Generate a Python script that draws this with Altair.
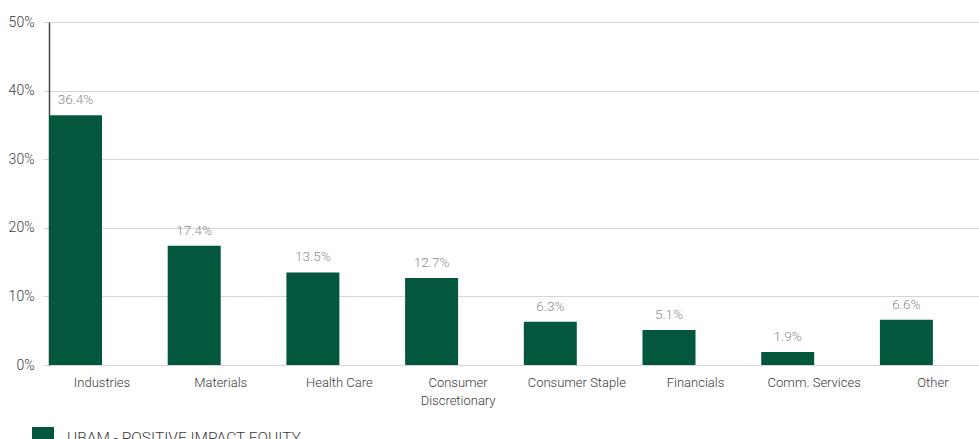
import altair as alt
import pandas as pd

categories = ["Industries", "Materials", "Health Care", "Consumer Discretionary",
              "Consumer Staple", "Financials", "Comm. Services", "Other"]
values = [36.4, 17.4, 13.5, 12.7, 6.3, 5.1, 1.9, 6.6]
series_name = "UBAM - POSITIVE IMPACT EQUITY"
y_ticks = [0, 10, 20, 30, 40, 50]

df = pd.DataFrame({"category": categories, "value": values, "series": series_name})

GREEN = "#03573f"
FONT = "Roboto"

x = alt.X("category:N", sort=categories, title=None,
          scale=alt.Scale(range=[-6.35, 943.25], paddingInner=0, paddingOuter=0),
          axis=alt.Axis(labelAngle=0, domain=False, ticks=False, labelPadding=11,
                        labelFontSize=13, labelColor="#3a3a3a", labelFont=FONT,
                        labelFontWeight=300, labelLineHeight=18,
                        labelExpr="datum.label == 'Consumer Discretionary' ? ['Consumer', 'Discretionary'] : datum.label"))
xoff = alt.XOffset("series:N",
                   scale=alt.Scale(domain=[series_name, "_blank"], paddingInner=0, paddingOuter=0.1198))
y = alt.Y("value:Q", title=None,
          scale=alt.Scale(domain=[0, 50], nice=False),
          axis=alt.Axis(values=y_ticks, ticks=False, labelPadding=15, labelFontSize=14,
                        labelColor="#3a3a3a", labelFont=FONT, labelFontWeight=300,
                        labelExpr="datum.value + '%'",
                        domain=True, domainColor="#444", domainWidth=1.5,
                        grid=True, gridColor="#d6d6d6", gridWidth=1.2))

bars = alt.Chart(df).mark_bar().encode(
    x=x, xOffset=xoff, y=y,
    color=alt.Color("series:N", scale=alt.Scale(domain=[series_name], range=[GREEN]),
                    legend=alt.Legend(title=None, orient="none", legendX=-17, legendY=405,
                                      symbolType="square", symbolSize=484, symbolStrokeWidth=0,
                                      symbolOpacity=1, labelLimit=0,
                                      labelFontSize=15.5, labelColor="#3a3a3a", labelFont=FONT,
                                      labelFontWeight=300, labelOffset=13, padding=0))
)

text = alt.Chart(df).transform_calculate(
    label="format(datum.value, '.1f') + '%'"
).mark_text(dy=-8, baseline="bottom", fontSize=13.5, color="#8c8c8c", font=FONT, fontWeight=300).encode(
    x=alt.X("category:N", sort=categories), xOffset=xoff, y=alt.Y("value:Q"),
    text="label:N"
)

chart = (bars + text).properties(
    width=930, height=343,
    autosize=alt.AutoSizeParams(type="none"),
    padding={"left": 49, "top": 22, "right": 0, "bottom": 74}
).configure_view(stroke=None)

chart.save("out.html", embed_options={"renderer": "svg", "actions": False})
